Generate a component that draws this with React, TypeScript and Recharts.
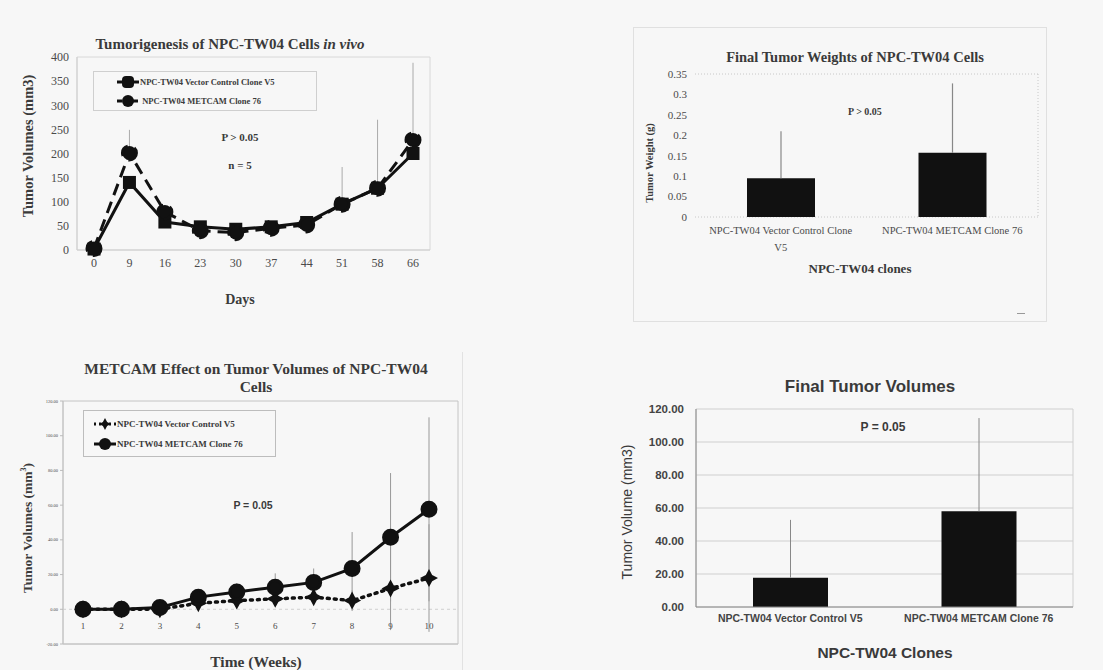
import React from "react";
import {
  LineChart,
  Line,
  BarChart,
  Bar,
  XAxis,
  YAxis,
  CartesianGrid,
  ErrorBar,
  Legend,
  ReferenceLine,
} from "recharts";

const SERIF = "'Liberation Serif', 'Times New Roman', serif";
const SANS = "'Liberation Sans', Arial, sans-serif";
const INK = "#3a3a3a";
const BAR = "#111";

// --- panel A: tumorigenesis in vivo ---
const days = ["0", "9", "16", "23", "30", "37", "44", "51", "58", "66"];
const vectorV5 = [2, 140, 58, 48, 43, 48, 57, 95, 128, 200];
const metcam76 = [3, 201, 79, 40, 36, 45, 52, 95, 128, 228];
const metcam76Err = [0, 48, 0, 0, 0, 0, 0, 77, 142, 160];
const volumeTicks = [0, 50, 100, 150, 200, 250, 300, 350, 400];

// --- panel B: final tumor weights ---
const weightClones = ["NPC-TW04 Vector Control Clone V5", "NPC-TW04  METCAM Clone 76"];
const weightMeans = [0.095, 0.157];
const weightErr = [0.115, 0.17];
const weightTicks = [0, 0.05, 0.1, 0.15, 0.2, 0.25, 0.3, 0.35];

// --- panel C: weekly volumes ---
const weeks = ["1", "2", "3", "4", "5", "6", "7", "8", "9", "10"];
const vectorWeekly = [0, 0, 0, 3.5, 5, 6, 7, 5, 12, 18];
const vectorWeeklyErr = [0, 0, 0.5, 2, 3, 4, 4, 6, 24, 31];
const metcamWeekly = [0, 0, 1, 7, 10, 12.7, 15.5, 23.5, 41.5, 57.6];
const metcamWeeklyErr = [0, 0, 0.5, 2, 5, 8, 8, 21, 37, 53];
const weeklyTicks = [-20, 0, 20, 40, 60, 80, 100, 120];

// --- panel D: final tumor volumes ---
const volumeClones = ["NPC-TW04 Vector Control V5", "NPC-TW04 METCAM Clone 76"];
const volumeMeans = [17.8, 58];
const volumeErr = [35, 56.5];
const finalTicks = [0, 20, 40, 60, 80, 100, 120];

const dataA = days.map((d, i) => ({
  day: d,
  vector: vectorV5[i],
  metcam: metcam76[i],
  mErr: [0, metcam76Err[i]],
}));
const dataB = weightClones.map((c, i) => ({ clone: c, weight: weightMeans[i], err: [0, weightErr[i]] }));
const dataC = weeks.map((w, i) => ({
  week: w,
  vector: vectorWeekly[i],
  vErr: vectorWeeklyErr[i],
  metcam: metcamWeekly[i],
  mErr: metcamWeeklyErr[i],
}));
const dataD = volumeClones.map((c, i) => ({ clone: c, volume: volumeMeans[i], err: [0, volumeErr[i]] }));

// plot-area frame helpers
const frameH = ({ offset }: any) => [offset.top, offset.top + offset.height];
const frameV = ({ offset }: any) => [offset.left, offset.left + offset.width];
const frameRight = ({ offset }: any) => [offset.left + offset.width];

const squareDot = (size: number) => (p: any) =>
  p.cx == null ? <g key={`sq-${p.index}`} /> : (
    <rect key={`sq-${p.index}`} x={p.cx - size / 2} y={p.cy - size / 2} width={size} height={size} fill={BAR} />
  );

const starPath = (cx: number, cy: number, r: number) => {
  const k = r * 0.35;
  return `M${cx},${cy - r}L${cx + k},${cy - k}L${cx + r},${cy}L${cx + k},${cy + k}L${cx},${cy + r}L${cx - k},${cy + k}L${cx - r},${cy}L${cx - k},${cy - k}Z`;
};
const starDot = (p: any) =>
  p.cx == null ? <g key={`st-${p.index}`} /> : <path key={`st-${p.index}`} d={starPath(p.cx, p.cy, 9)} fill={BAR} />;

function wrapLabel(s: string, max: number) {
  const words = s.split(" ");
  const lines: string[] = [];
  let cur = "";
  words.forEach((w) => {
    const next = cur === "" ? w : cur + " " + w;
    if (next.length > max && cur !== "") {
      lines.push(cur);
      cur = w;
    } else cur = next;
  });
  lines.push(cur);
  return lines;
}

function Txt({ x, y, size, bold, font, rotate, children, color }: any) {
  return (
    <div
      style={{
        position: "absolute",
        left: x,
        top: y,
        transform: `translate(-50%, -50%)${rotate ? " rotate(-90deg)" : ""}`,
        whiteSpace: "nowrap",
        fontSize: size,
        fontWeight: bold ? "bold" : "normal",
        fontFamily: font || SERIF,
        color: color || INK,
        lineHeight: 1,
      }}
    >
      {children}
    </div>
  );
}

function LegendA() {
  return (
    <div style={{ border: "1px solid #cfcfcf", height: 40, boxSizing: "border-box", fontFamily: SERIF, fontSize: 8.5, fontWeight: "bold", color: INK }}>
      <div style={{ display: "flex", alignItems: "center", height: 19, paddingLeft: 22 }}>
        <svg width={24} height={14}>
          <line x1={1} y1={7} x2={23} y2={7} stroke={BAR} strokeWidth={3} />
          <rect x={6} y={1} width={12} height={12} rx={4} fill={BAR} />
        </svg>
        <span>NPC-TW04 Vector Control Clone V5</span>
      </div>
      <div style={{ display: "flex", alignItems: "center", height: 19, paddingLeft: 22 }}>
        <svg width={24} height={14}>
          <line x1={1} y1={7} x2={23} y2={7} stroke={BAR} strokeWidth={3} strokeDasharray="5 3" />
          <circle cx={12} cy={7} r={6} fill={BAR} />
        </svg>
        <span>&nbsp;NPC-TW04 METCAM Clone 76</span>
      </div>
    </div>
  );
}

function LegendC() {
  return (
    <div style={{ border: "1px solid #bdbdbd", height: 47, boxSizing: "border-box", fontFamily: SERIF, fontSize: 9, fontWeight: "bold", color: INK, paddingTop: 3 }}>
      <div style={{ display: "flex", alignItems: "center", height: 20, paddingLeft: 9 }}>
        <svg width={24} height={16}>
          <line x1={1} y1={8} x2={23} y2={8} stroke={BAR} strokeWidth={3} strokeDasharray="2 3" />
          <path d={starPath(12, 8, 6)} fill={BAR} />
        </svg>
        <span>NPC-TW04 Vector Control V5</span>
      </div>
      <div style={{ display: "flex", alignItems: "center", height: 20, paddingLeft: 9 }}>
        <svg width={24} height={16}>
          <line x1={1} y1={8} x2={23} y2={8} stroke={BAR} strokeWidth={3} />
          <circle cx={12} cy={8} r={6} fill={BAR} />
        </svg>
        <span>NPC-TW04 METCAM Clone 76</span>
      </div>
    </div>
  );
}

export default function App() {
  const serifTick = (size: number) => ({ fontSize: size, fontFamily: SERIF, fill: "#4a4a4a", stroke: "none" });
  const sansTick = (size: number) => ({ fontSize: size, fontFamily: SANS, fontWeight: "bold", fill: "#444", stroke: "none" });
  return (
    <div style={{ position: "absolute", left: 0, top: 0, width: 1103, height: 670, background: "#f7f7f7", overflow: "hidden" }}>
      {/* panel A */}
      <div style={{ position: "absolute", left: 0, top: 0 }}>
        <LineChart width={450} height={320} data={dataA} margin={{ top: 57, right: 20, bottom: 40, left: 37 }}>
          <CartesianGrid stroke="#d8d8d8" horizontalCoordinatesGenerator={frameH} verticalCoordinatesGenerator={frameV} />
          <XAxis dataKey="day" height={30} padding={{ left: 17, right: 17 }} stroke="#999" tick={serifTick(12)} tickLine={false} axisLine={{ stroke: "#cfcfcf" }} />
          <YAxis width={40} domain={[0, 400]} ticks={volumeTicks} stroke="#999" tick={serifTick(12)} tickLine={false} axisLine={{ stroke: "#cfcfcf" }} />
          <Legend layout="vertical" align="center" verticalAlign="middle" content={<LegendA />} wrapperStyle={{ position: "absolute", left: 93, top: 71, width: 224, height: 40 }} />
          <Line dataKey="vector" stroke={BAR} strokeWidth={3} dot={squareDot(13)} isAnimationActive={false} />
          <Line dataKey="metcam" stroke={BAR} strokeWidth={3} strokeDasharray="12 7" dot={{ r: 7, fill: BAR, stroke: BAR }} isAnimationActive={false}>
            <ErrorBar dataKey="mErr" width={0} stroke="#aaa" strokeWidth={1} direction="y" />
          </Line>
        </LineChart>
        <Txt x={230} y={44} size={15} bold>
          Tumorigenesis of NPC-TW04 Cells <i>in vivo</i>
        </Txt>
        <Txt x={28} y={146} size={14.5} bold rotate>Tumor Volumes (mm3)</Txt>
        <Txt x={240} y={137} size={11} bold>P &gt; 0.05</Txt>
        <Txt x={240} y={165} size={11} bold>n = 5</Txt>
        <Txt x={240} y={300} size={14} bold>Days</Txt>
      </div>

      {/* panel B */}
      <div style={{ position: "absolute", left: 633, top: 27, width: 414, height: 295, border: "1px solid #e0e0e0", boxSizing: "border-box" }} />
      <div style={{ position: "absolute", left: 620, top: 20 }}>
        <BarChart width={440} height={300} data={dataB} margin={{ top: 54, right: 22, bottom: 63, left: 35 }}>
          <CartesianGrid stroke="#c8c8c8" strokeDasharray="1 2" horizontalCoordinatesGenerator={frameH} verticalCoordinatesGenerator={frameRight} />
          <XAxis
            dataKey="clone"
            height={40}
            interval={0}
            tickLine={false}
            axisLine={false}
            tick={(p: any) => (
              <text x={p.x} y={p.y} textAnchor="middle" style={serifTick(10.5)}>
                {wrapLabel(String(p.payload.value), 30).map((l, i) => (
                  <tspan key={i} x={p.x} dy={i === 0 ? "0.85em" : 17}>{l}</tspan>
                ))}
              </text>
            )}
          />
          <YAxis width={40} domain={[0, 0.35]} ticks={weightTicks} stroke="#999" tick={serifTick(11)} tickLine={false} axisLine={false} />
          <Bar dataKey="weight" fill={BAR} barSize={68} isAnimationActive={false}>
            <ErrorBar dataKey="err" width={0} stroke="#888" strokeWidth={1.2} direction="y" />
          </Bar>
        </BarChart>
        <Txt x={235} y={37} size={14.5} bold>Final Tumor Weights of NPC-TW04 Cells</Txt>
        <Txt x={30} y={143} size={10.5} bold rotate>Tumor Weight (g)</Txt>
        <Txt x={245} y={92} size={10} bold>P &gt; 0.05</Txt>
        <Txt x={240} y={248} size={13} bold>NPC-TW04 clones</Txt>
        <div style={{ position: "absolute", left: 397, top: 293, width: 8, borderTop: "1px solid #999" }} />
      </div>

      {/* panel C */}
      <div style={{ position: "absolute", left: 4, top: 352, width: 458, height: 318, borderRight: "1px solid #e2e2e2" }} />
      <div style={{ position: "absolute", left: 0, top: 350 }}>
        <LineChart width={470} height={320} data={dataC} margin={{ top: 51, right: 12, bottom: 6, left: 13 }}>
          <CartesianGrid stroke="#c4c4c4" horizontalCoordinatesGenerator={frameH} verticalCoordinatesGenerator={frameV} />
          <ReferenceLine y={0} stroke="#cfcfcf" strokeDasharray="3 3" />
          <XAxis
            dataKey="week"
            height={20}
            padding={{ left: 20, right: 29 }}
            tickSize={0}
            tickMargin={0}
            axisLine={{ stroke: "#c4c4c4" }}
            tick={(p: any) => (
              <text x={p.x} y={p.y - 15} textAnchor="middle" style={serifTick(9)}>
                {p.payload.value}
              </text>
            )}
          />
          <YAxis
            width={50}
            domain={[-20, 120]}
            ticks={weeklyTicks}
            tickFormatter={(v: number) => v.toFixed(2)}
            stroke="#999"
            tick={serifTick(4.5)}
            tickSize={3}
            tickLine={{ stroke: "#bbb" }}
            axisLine={{ stroke: "#c4c4c4" }}
          />
          <Legend layout="vertical" align="center" verticalAlign="middle" content={<LegendC />} wrapperStyle={{ position: "absolute", left: 83, top: 60, width: 193, height: 47 }} />
          <Line dataKey="vector" stroke={BAR} strokeWidth={3.5} strokeDasharray="2 5" strokeLinecap="round" dot={starDot} isAnimationActive={false}>
            <ErrorBar dataKey="vErr" width={0} stroke="#999" strokeWidth={1} direction="y" />
          </Line>
          <Line dataKey="metcam" stroke={BAR} strokeWidth={3} dot={{ r: 7, fill: BAR, stroke: BAR }} isAnimationActive={false}>
            <ErrorBar dataKey="mErr" width={0} stroke="#999" strokeWidth={1} direction="y" />
          </Line>
        </LineChart>
        <Txt x={256} y={19} size={15.5} bold>METCAM Effect on Tumor Volumes of NPC-TW04</Txt>
        <Txt x={256} y={37} size={15.5} bold>Cells</Txt>
        <Txt x={27} y={178} size={13.5} bold rotate>
          Tumor Volumes (mm<sup style={{ fontSize: 8 }}>3</sup>)
        </Txt>
        <Txt x={253} y={155} size={10.5} bold font={SANS}>P = 0.05</Txt>
        <Txt x={256} y={312} size={15.5} bold>Time (Weeks)</Txt>
      </div>

      {/* panel D */}
      <div style={{ position: "absolute", left: 600, top: 360 }}>
        <BarChart width={490} height={310} data={dataD} margin={{ top: 49, right: 17, bottom: 38, left: 36 }}>
          <CartesianGrid stroke="#cfcfcf" verticalCoordinatesGenerator={frameV} />
          <XAxis dataKey="clone" height={25} interval={0} tickLine={false} stroke="#888" axisLine={{ stroke: "#888" }} tick={sansTick(10.5)} />
          <YAxis
            width={60}
            domain={[0, 120]}
            ticks={finalTicks}
            tickFormatter={(v: number) => v.toFixed(2)}
            stroke="#888"
            tick={sansTick(11.5)}
            tickLine={false}
            tickMargin={6}
            axisLine={{ stroke: "#888" }}
          />
          <Bar dataKey="volume" fill={BAR} barSize={75} isAnimationActive={false}>
            <ErrorBar dataKey="err" width={0} stroke="#888" strokeWidth={1} direction="y" />
          </Bar>
        </BarChart>
        <Txt x={270} y={26} size={17} bold font={SANS}>Final Tumor Volumes</Txt>
        <Txt x={27} y={152} size={14} font={SANS} rotate>Tumor Volume (mm3)</Txt>
        <Txt x={283} y={67} size={12} bold font={SANS}>P = 0.05</Txt>
        <Txt x={285} y={293} size={15.5} bold font={SANS}>NPC-TW04 Clones</Txt>
      </div>
    </div>
  );
}
